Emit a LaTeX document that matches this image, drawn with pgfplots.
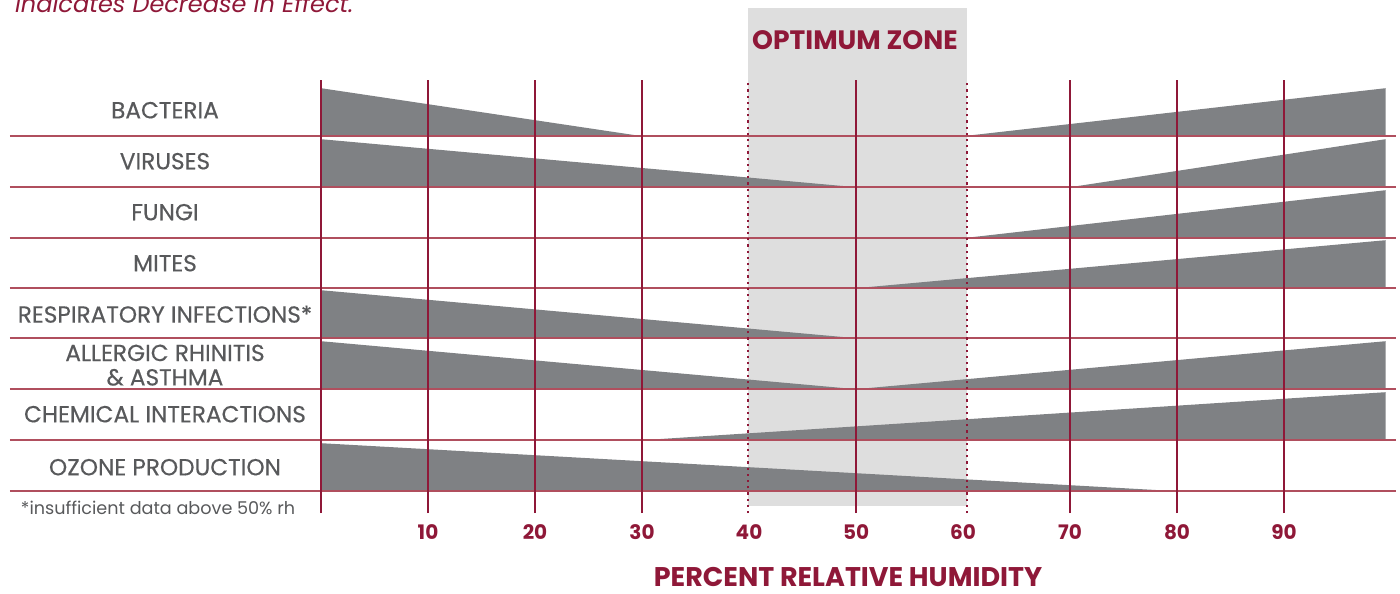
\documentclass[border=0pt]{standalone}
\usepackage{pgfplots}
\pgfplotsset{compat=1.18}
\usepackage{fontspec}
\setmainfont{Poppins}
\newfontfamily\labfont[FakeBold=0.4]{Poppins}
\definecolor{crim}{HTML}{8F1838}
\definecolor{hline}{HTML}{B04F5E}
\definecolor{bargray}{HTML}{7F8184}
\definecolor{zone}{HTML}{DEDEDE}
\definecolor{labelgray}{HTML}{58595B}
\tikzset{lab/.style={text=labelgray, font=\labfont\fontsize{11.6}{12.2}\selectfont}}
\begin{document}
\begin{tikzpicture}
\begin{axis}[
  scale only axis, width=700pt, height=293pt,
  xmin=-30, xmax=100.84, ymin=0, ymax=586,
  axis line style={draw=none}, major tick length=0pt,
  xtick={10,20,...,90}, ytick=\empty,
  /pgf/number format/assume math mode=true,
  xticklabel style={font=\bfseries\fontsize{10}{12}\selectfont, text=crim, anchor=center, yshift=27pt},
  clip=false,
]
% optimum zone
\addplot[fill=zone, draw=none] coordinates {(39.9,80)(39.9,578)(60.4,578)(60.4,80)} -- cycle;
% bars (rows baselines 450,399,348,298,248,197,146,95; height 48)
% Bacteria
\addplot[fill=bargray, draw=none] coordinates {(0,450)(0,498)(30,450)} -- cycle;
\addplot[fill=bargray, draw=none] coordinates {(60,450)(99.5,498)(99.5,450)} -- cycle;
% Viruses
\addplot[fill=bargray, draw=none] coordinates {(0,399)(0,447)(50,399)} -- cycle;
\addplot[fill=bargray, draw=none] coordinates {(70,399)(99.5,447)(99.5,399)} -- cycle;
% Fungi
\addplot[fill=bargray, draw=none] coordinates {(60,348)(99.5,396)(99.5,348)} -- cycle;
% Mites
\addplot[fill=bargray, draw=none] coordinates {(50,298)(99.5,346)(99.5,298)} -- cycle;
% Respiratory
\addplot[fill=bargray, draw=none] coordinates {(0,248)(0,296)(50,248)} -- cycle;
% Allergic
\addplot[fill=bargray, draw=none] coordinates {(0,197)(0,245)(50,197)} -- cycle;
\addplot[fill=bargray, draw=none] coordinates {(50,197)(99.5,245)(99.5,197)} -- cycle;
% Chemical
\addplot[fill=bargray, draw=none] coordinates {(30,146)(99.5,194)(99.5,146)} -- cycle;
% Ozone
\addplot[fill=bargray, draw=none] coordinates {(0,95)(0,143)(80,95)} -- cycle;
% horizontal lines
\foreach \yy in {450,399,348,298,248,197,146,95}{
  \edef\temp{\noexpand\addplot[hline, line width=0.8pt] coordinates {(-29.07,\yy)(100.47,\yy)};}
  \temp
}
% vertical lines
\foreach \xx in {0,10,20,30,50,70,80,90}{
  \edef\temp{\noexpand\addplot[crim, line width=0.8pt] coordinates {(\xx,73)(\xx,506)};}
  \temp
}
\addplot[crim, line width=1.1pt, dash pattern=on 1.1pt off 2pt] coordinates {(39.9,73)(39.9,506)};
\addplot[crim, line width=1.1pt, dash pattern=on 1.1pt off 2pt] coordinates {(60.4,73)(60.4,506)};
% labels
\node[lab] at (axis cs:-14.58,476) {BACTERIA};
\node[lab] at (axis cs:-14.58,425) {VIRUSES};
\node[lab] at (axis cs:-14.58,374) {FUNGI};
\node[lab] at (axis cs:-14.58,323) {MITES};
\node[lab] at (axis cs:-14.58,272) {RESPIRATORY INFECTIONS*};
\node[lab, align=center] at (axis cs:-14.58,221) {ALLERGIC RHINITIS\\\& ASTHMA};
\node[lab] at (axis cs:-14.58,172) {CHEMICAL INTERACTIONS};
\node[lab] at (axis cs:-14.58,119) {OZONE PRODUCTION};
\node[text=labelgray, font=\fontsize{8.8}{10}\selectfont] at (axis cs:-15.23,78) {*insufficient data above 50\% rh};
\node[text=crim, font=\bfseries\fontsize{13.3}{14}\selectfont] at (axis cs:49.9,546) {OPTIMUM ZONE};
\node[text=crim, font=\bfseries\fontsize{13.5}{14}\selectfont] at (axis cs:49.25,9) {PERCENT RELATIVE HUMIDITY};
\node[overlay, anchor=base west, text=crim, font=\itshape\fontsize{12}{14}\selectfont] at (axis cs:-29.25,574) {Indicates Decrease in Effect.};
\end{axis}
\end{tikzpicture}
\end{document}
